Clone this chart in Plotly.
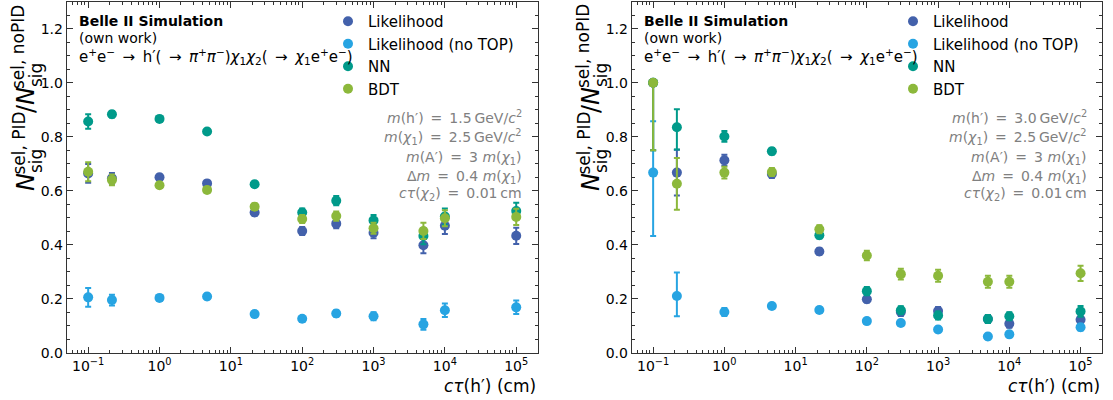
import plotly.graph_objects as go

# ---------------- data ----------------
ctau = [0.1, 0.2154, 1.0, 4.642, 21.54, 100, 300, 1000, 5000, 10000, 100000]

# left panel: m(h') = 1.5 GeV
lik_L = [0.664, 0.646, 0.650, 0.627, 0.519, 0.451, 0.478, 0.444, 0.398, 0.470, 0.433]
lik_L_err = [0.035, 0.02, 0.01, 0.01, 0.012, 0.015, 0.017, 0.02, 0.03, 0.03, 0.03]
notop_L = [0.205, 0.195, 0.203, 0.208, 0.143, 0.126, 0.145, 0.135, 0.105, 0.157, 0.168]
notop_L_err = [0.035, 0.02, 0.01, 0.01, 0.01, 0.01, 0.012, 0.015, 0.02, 0.025, 0.025]
nn_L = [0.856, 0.883, 0.866, 0.819, 0.624, 0.519, 0.563, 0.490, 0.432, 0.504, 0.525]
nn_L_err = [0.027, 0.012, 0.008, 0.008, 0.01, 0.015, 0.017, 0.02, 0.03, 0.03, 0.03]
bdt_L = [0.670, 0.640, 0.620, 0.603, 0.541, 0.495, 0.506, 0.461, 0.451, 0.498, 0.503]
bdt_L_err = [0.035, 0.02, 0.01, 0.01, 0.012, 0.015, 0.017, 0.02, 0.03, 0.03, 0.03]

# right panel: m(h') = 3.0 GeV
lik_R = [1.0, 0.667, 0.713, 0.662, 0.375, 0.198, 0.151, 0.154, 0.125, 0.107, 0.122]
lik_R_up = [0.0, 0.085, 0.02, 0.015, 0.012, 0.012, 0.015, 0.015, 0.015, 0.015, 0.015]
lik_R_dn = [0.25, 0.085, 0.02, 0.015, 0.012, 0.012, 0.015, 0.015, 0.015, 0.015, 0.015]
notop_R = [0.667, 0.21, 0.151, 0.173, 0.158, 0.117, 0.110, 0.086, 0.060, 0.068, 0.094]
notop_R_up = [0.19, 0.087, 0.015, 0.01, 0.01, 0.01, 0.01, 0.01, 0.01, 0.01, 0.012]
notop_R_dn = [0.235, 0.075, 0.015, 0.01, 0.01, 0.01, 0.01, 0.01, 0.01, 0.01, 0.012]
nn_R = [1.0, 0.835, 0.801, 0.746, 0.435, 0.228, 0.157, 0.138, 0.125, 0.135, 0.153]
nn_R_up = [0.0, 0.067, 0.02, 0.012, 0.012, 0.015, 0.015, 0.015, 0.015, 0.015, 0.02]
nn_R_dn = [0.25, 0.082, 0.02, 0.012, 0.012, 0.015, 0.015, 0.015, 0.015, 0.015, 0.02]
bdt_R = [1.0, 0.626, 0.667, 0.669, 0.457, 0.360, 0.291, 0.285, 0.263, 0.263, 0.294]
bdt_R_up = [0.0, 0.095, 0.022, 0.015, 0.015, 0.018, 0.02, 0.022, 0.022, 0.022, 0.028]
bdt_R_dn = [0.25, 0.097, 0.022, 0.015, 0.015, 0.018, 0.02, 0.022, 0.022, 0.022, 0.028]

series_names = ["Likelihood", "Likelihood (no TOP)", "NN", "BDT"]
colors = ["#4361ab", "#27a4e2", "#009a8a", "#8cb83b"]

xtick_vals = [0.1, 1, 10, 100, 1000, 10000, 100000]
xtick_text = ["10<sup>\u22121</sup>", "10<sup>0</sup>", "10<sup>1</sup>", "10<sup>2</sup>",
              "10<sup>3</sup>", "10<sup>4</sup>", "10<sup>5</sup>"]
ytick_vals = [0.0, 0.2, 0.4, 0.6, 0.8, 1.0, 1.2]
ytick_text = ["0.0", "0.2", "0.4", "0.6", "0.8", "1.0", "1.2"]

SP = "\u2002"
EQ = "\u2002=\u2002"
mass_lines_L = [f"<i>m</i>(h\u2032){EQ}1.5\u2009GeV/<i>c</i><sup>2</sup>",
                f"<i>m</i>(<i>\u03c7</i><sub>1</sub>){EQ}2.5\u2009GeV/<i>c</i><sup>2</sup>",
                f"<i>m</i>(A\u2032){EQ}3 <i>m</i>(<i>\u03c7</i><sub>1</sub>)",
                f"\u0394<i>m</i>{EQ}0.4 <i>m</i>(<i>\u03c7</i><sub>1</sub>)",
                f"<i>c\u03c4</i>(<i>\u03c7</i><sub>2</sub>){EQ}0.01\u2009cm"]
mass_lines_R = [f"<i>m</i>(h\u2032){EQ}3.0\u2009GeV/<i>c</i><sup>2</sup>"] + mass_lines_L[1:]

W, H = 1113, 400
FONT = "DejaVu Sans"

def px(x):
    return x / W

def py(y):
    return 1 - y / H

# plot areas in pixels
panels = [(66.7, 537.7), (631.7, 1102.0)]
ytop, ybot = 1.7, 352.7

fig = go.Figure()

panel_data = [
    ([lik_L, notop_L, nn_L, bdt_L],
     [lik_L_err, notop_L_err, nn_L_err, bdt_L_err],
     [lik_L_err, notop_L_err, nn_L_err, bdt_L_err]),
    ([lik_R, notop_R, nn_R, bdt_R],
     [lik_R_up, notop_R_up, nn_R_up, bdt_R_up],
     [lik_R_dn, notop_R_dn, nn_R_dn, bdt_R_dn]),
]

for p, (vals, ups, dns) in enumerate(panel_data):
    xa = "x" if p == 0 else "x2"
    ya = "y" if p == 0 else "y2"
    lg = "legend" if p == 0 else "legend2"
    for i in range(4):
        fig.add_trace(go.Scatter(
            x=ctau, y=vals[i], mode="markers", name=series_names[i],
            xaxis=xa, yaxis=ya, legend=lg,
            marker=dict(color=colors[i], size=10, line=dict(width=0)),
            error_y=dict(type="data", array=ups[i], arrayminus=dns[i], symmetric=False,
                         color=colors[i], thickness=2, width=3),
        ))

minor_x = [m * 10 ** e for e in range(-2, 6) for m in range(2, 10)]

axis_common = dict(showline=True, linecolor="#333333", linewidth=1, mirror="allticks",
                   ticks="inside", ticklen=6, tickwidth=1, tickcolor="#333333",
                   showgrid=False, zeroline=False, automargin=False,
                   tickfont=dict(family=FONT, size=14, color="black"))

for p, (xl, xr) in enumerate(panels):
    sfx = "" if p == 0 else "2"
    fig.layout["xaxis" + sfx] = dict(
        axis_common, type="log", range=[-1.301, 5.301], domain=[px(xl), px(xr)],
        anchor="y" + sfx, tickmode="array", tickvals=xtick_vals, ticktext=xtick_text,
        minor=dict(tickmode="array", tickvals=minor_x, ticks="inside", ticklen=3,
                   tickcolor="#333333", showgrid=False),
    )
    fig.layout["yaxis" + sfx] = dict(
        axis_common, range=[0, 1.3], domain=[py(ybot), py(ytop)], anchor="x" + sfx,
        tickmode="array", tickvals=ytick_vals, ticktext=ytick_text,
        minor=dict(dtick=0.05, ticks="inside", ticklen=3, tickcolor="#333333", showgrid=False),
    )

annotations = []

def ann(**kw):
    kw.setdefault("showarrow", False)
    kw["xref"] = "paper"
    kw["yref"] = "paper"
    annotations.append(kw)

for p, (xl, xr) in enumerate(panels):
    off = xl - 66.7
    # top-left text
    ann(text="<b>Belle II Simulation</b>", x=px(77 + off), y=py(20.7),
        xanchor="left", yanchor="middle", font=dict(family=FONT, size=14, color="black"))
    ann(text="(own work)", x=px(77 + off), y=py(38.3),
        xanchor="left", yanchor="middle", font=dict(family=FONT, size=14, color="black"))
    ann(text=f"e<sup>+</sup>e<sup>\u2212</sup>{SP}\u2192{SP}h\u2032({SP}\u2192{SP}<i>\u03c0</i><sup>+</sup><i>\u03c0</i><sup>\u2212</sup>)"
             f"<i>\u03c7</i><sub>1</sub><i>\u03c7</i><sub>2</sub>({SP}\u2192{SP}<i>\u03c7</i><sub>1</sub>e<sup>+</sup>e<sup>\u2212</sup>)",
        x=px(77 + off), y=py(56), xanchor="left", yanchor="middle",
        font=dict(family=FONT, size=15, color="black"))
    # mass annotations
    lines = mass_lines_L if p == 0 else mass_lines_R
    for t, yy in zip(lines, [117, 137, 158, 177, 194]):
        ann(text=t, x=px(523.7 + off), y=py(yy), xanchor="right", yanchor="middle",
            font=dict(family=FONT, size=14, color="#808080"))
    # x label
    ann(text="<i>c\u03c4</i>(h\u2032) (cm)", x=px(xr), y=py(386), xanchor="right",
        yanchor="middle", font=dict(family=FONT, size=17, color="black"))
    # y label (stacked super/subscripts), centres given in pixels
    ylab_parts = [
        ("<i>N</i>", 26, 182, 24),
        ("sel, PID", 18.5, 143, 17),
        ("sig", 36, 161, 17),
        ("/<i>N</i>", 26, 100, 24),
        ("sel, noPID", 18.5, 46.5, 17),
        ("sig", 36, 75, 17),
    ]
    for t, xx, yy, fs in ylab_parts:
        ann(text=t, x=px(xx + off), y=py(yy), xanchor="center", yanchor="middle",
            textangle=-90, font=dict(family=FONT, size=fs, color="black"))

leg_common = dict(font=dict(family=FONT, size=15, color="black"), bgcolor="rgba(0,0,0,0)",
                  borderwidth=0, xanchor="left", yanchor="top", tracegroupgap=0,
                  itemwidth=30)
fig.update_layout(
    width=W, height=H, margin=dict(l=0, r=0, t=0, b=0),
    paper_bgcolor="white", plot_bgcolor="white",
    showlegend=True,
    legend=dict(leg_common, x=px(328), y=py(5)),
    legend2=dict(leg_common, x=px(328 + 565), y=py(5)),
    annotations=annotations,
    font=dict(family=FONT, size=14, color="black"),
)

fig.write_html("out.html")
